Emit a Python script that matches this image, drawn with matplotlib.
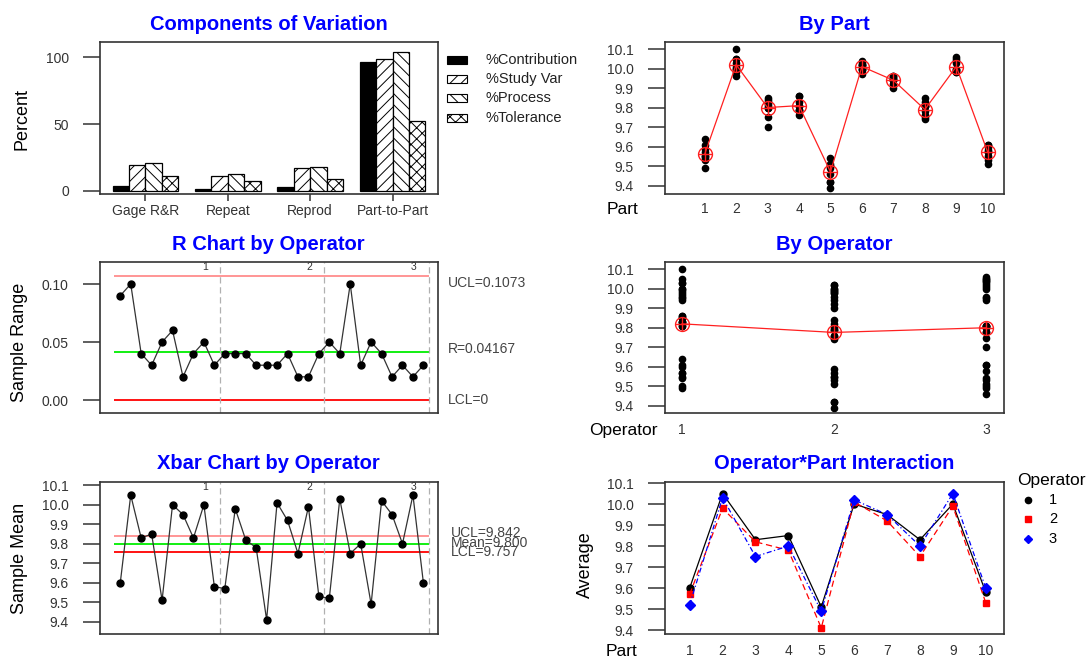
import numpy as np
import matplotlib.pyplot as plt
from matplotlib.patches import Rectangle
from matplotlib.lines import Line2D

plt.rcParams['font.family'] = ['Liberation Sans', 'DejaVu Sans']
plt.rcParams['hatch.linewidth'] = 0.7

# ---- data ----
components = ['Gage R&R', 'Repeat', 'Reprod', 'Part-to-Part']
pct_contribution = [3.8, 1.3, 3.0, 96.7]
pct_study_var = [19.5, 11.3, 16.8, 98.6]
pct_process = [20.8, 12.5, 17.5, 104.2]
pct_tolerance = [11.0, 7.3, 8.8, 52.0]
legend_names = ['%Contribution', '%Study Var', '%Process', '%Tolerance']

parts = list(range(1, 11))
operators = [1, 2, 3]

# measurements: rows = parts 1..10, cols = trials
op1_meas = [[9.64, 9.55, 9.61], [10.10, 10.00, 10.05], [9.85, 9.81, 9.83],
            [9.86, 9.83, 9.86], [9.54, 9.49, 9.50], [10.03, 9.97, 10.00],
            [9.96, 9.94, 9.95], [9.85, 9.81, 9.83], [10.03, 9.98, 9.99],
            [9.60, 9.57, 9.57]]
op2_meas = [[9.59, 9.55, 9.57], [10.00, 9.96, 9.98], [9.84, 9.80, 9.82],
            [9.79, 9.76, 9.79], [9.42, 9.39, 9.42], [10.02, 9.99, 10.02],
            [9.94, 9.90, 9.92], [9.76, 9.74, 9.75], [10.00, 9.98, 9.99],
            [9.55, 9.51, 9.53]]
op3_meas = [[9.54, 9.49, 9.53], [10.05, 10.01, 10.03], [9.80, 9.70, 9.75],
            [9.81, 9.78, 9.81], [9.51, 9.46, 9.50], [10.04, 10.00, 10.02],
            [9.96, 9.94, 9.95], [9.81, 9.78, 9.81], [10.06, 10.04, 10.05],
            [9.61, 9.58, 9.61]]

part_means = [9.56, 10.02, 9.80, 9.81, 9.47, 10.01, 9.94, 9.79, 10.01, 9.57]
operator_means = [9.82, 9.776, 9.80]

op1_xbar = [9.60, 10.05, 9.83, 9.85, 9.51, 10.00, 9.95, 9.83, 10.00, 9.58]
op2_xbar = [9.57, 9.98, 9.82, 9.78, 9.41, 10.01, 9.92, 9.75, 9.99, 9.53]
op3_xbar = [9.52, 10.03, 9.75, 9.80, 9.49, 10.02, 9.95, 9.80, 10.05, 9.60]

op1_range = [0.09, 0.10, 0.04, 0.03, 0.05, 0.06, 0.02, 0.04, 0.05, 0.03]
op2_range = [0.04, 0.04, 0.04, 0.03, 0.03, 0.03, 0.04, 0.02, 0.02, 0.04]
op3_range = [0.05, 0.04, 0.10, 0.03, 0.05, 0.04, 0.02, 0.03, 0.02, 0.03]

r_ucl, r_center, r_lcl = 0.1073, 0.04167, 0.0
x_ucl, x_center, x_lcl = 9.842, 9.800, 9.757

# ---- layout helpers (pixel based) ----
W, H = 1091, 660
fig = plt.figure(figsize=(W / 100, H / 100), dpi=100)


def px(x, y):
    return x / W, 1 - y / H


def box(l, t, r, b):
    return fig.add_axes([l / W, 1 - b / H, (r - l) / W, (b - t) / H])


def style(ax, xpad, xlen=0):
    for s in ax.spines.values():
        s.set_color('#333333')
        s.set_linewidth(1.2)
    ax.tick_params(axis='y', length=12.5, width=1.1, pad=10, labelsize=10,
                   labelcolor='#333333', color='#333333')
    ax.tick_params(axis='x', length=xlen, width=1.1, pad=xpad, labelsize=10,
                   labelcolor='#333333', color='#333333')


def title(ax, t):
    ax.set_title(t, color='#0000ff', fontsize=14.5, fontweight='bold', pad=9)


ticks_mean = [9.4, 9.5, 9.6, 9.7, 9.8, 9.9, 10.0, 10.1]
ticks_mean_lab = ['9.4', '9.5', '9.6', '9.7', '9.8', '9.9', '10.0', '10.1']

ax_cv = box(100, 42, 438, 194)
ax_part = box(665, 42, 1003.5, 194)
ax_r = box(100, 262, 437.5, 413)
ax_op = box(665, 262, 1003.5, 413)
ax_x = box(100, 482, 437.5, 634)
ax_int = box(665, 482, 1003.5, 634)

# ---- Components of Variation ----
series = [pct_contribution, pct_study_var, pct_process, pct_tolerance]
fills = ['black', 'white', 'white', 'white']
hatches = [None, '///', '\\\\\\', 'xxx']
for i, vals in enumerate(series):
    xs = [1.5 + 5 * g + i for g in range(len(components))]
    ax_cv.bar(xs, vals, width=1, color=fills[i], edgecolor='black',
              hatch=hatches[i], linewidth=0.9)
ax_cv.set_xlim(0.24, 20.76)
ax_cv.set_ylim(-2.5, 111.5)
ax_cv.set_yticks([0, 50, 100])
ax_cv.set_xticks([3 + 5 * g for g in range(len(components))])
ax_cv.set_xticklabels(components, fontsize=10.5)
style(ax_cv, 2.5, xlen=5)
title(ax_cv, 'Components of Variation')
fig.text(*px(22, 119), 'Percent', rotation=90, ha='center', va='center', fontsize=13)

for i, name in enumerate(legend_names):
    yc = [60, 79, 98, 118][i]
    x0, y0 = px(447, yc + 3.5)
    fig.add_artist(Rectangle((x0, y0), 20 / W, 7 / H, transform=fig.transFigure,
                             facecolor=fills[i], edgecolor='black', hatch=hatches[i],
                             linewidth=0.8))
    fig.text(*px(486, yc), name, ha='left', va='center', fontsize=10.5, color='#222222')

# ---- By Part ----
for p, a, b, c in zip(parts, op1_meas, op2_meas, op3_meas):
    vals = a + b + c
    ax_part.plot([p] * len(vals), vals, 'o', color='black', ms=4.5)
ax_part.plot(parts, part_means, color='#ff2020', lw=0.9)
ax_part.plot(parts, part_means, 'o', ms=10, mfc='none', mec='#ff2020', mew=1)
ax_part.plot(parts, part_means, '+', ms=10, mec='#ff2020', mew=1)
ax_part.set_xlim(-0.26, 10.5)
ax_part.set_ylim(9.357, 10.136)
ax_part.set_xticks(parts)
ax_part.set_yticks(ticks_mean)
ax_part.set_yticklabels(ticks_mean_lab)
style(ax_part, 5.8)
title(ax_part, 'By Part')
fig.text(*px(622, 210), 'Part', ha='center', va='center', fontsize=12.5)

# ---- R chart ----
sample_range = op1_range + op2_range + op3_range
idx = np.arange(1, len(sample_range) + 1)
ax_r.hlines([r_ucl], 0.4, 30.5, color='#ff8c8c', lw=1.3)
ax_r.hlines([r_center], 0.4, 30.5, color='#00ee00', lw=1.3)
ax_r.hlines([r_lcl], 0.4, 30.5, color='#ff0000', lw=1.3)
for v in [10.5, 20.5, 30.5]:
    ax_r.axvline(v, color='#b0b0b0', ls=(0, (5, 3)), lw=0.9)
ax_r.plot(idx, sample_range, color='#333333', lw=0.9, marker='o', ms=5,
          mfc='black', mec='black')
for xo, op in zip([9.1, 19.1, 29.1], operators):
    ax_r.text(xo, 0.119, str(op), ha='center', va='top', fontsize=7.5, color='#333333')
ax_r.set_xlim(-0.94, 31.35)
ax_r.set_ylim(-0.0112, 0.119)
ax_r.set_xticks([])
ax_r.set_yticks([0.0, 0.05, 0.10])
ax_r.set_yticklabels(['0.00', '0.05', '0.10'])
style(ax_r, 0)
title(ax_r, 'R Chart by Operator')
for yv, lab in zip([0.1006, 0.0437, 0.0], ['UCL=0.1073', 'R=0.04167', 'LCL=0']):
    ax_r.text(1.032, yv, lab, transform=ax_r.get_yaxis_transform(), ha='left',
              va='center', fontsize=10, color='#444444')
fig.text(*px(20, 342), 'Sample Range', rotation=90, ha='center', va='center', fontsize=13)

# ---- By Operator ----
for op, meas in zip(operators, [op1_meas, op2_meas, op3_meas]):
    vals = [v for row in meas for v in row]
    ax_op.plot([op] * len(vals), vals, 'o', color='black', ms=4.5)
ax_op.plot(operators, operator_means, color='#ff2020', lw=0.9)
ax_op.plot(operators, operator_means, 'o', ms=10, mfc='none', mec='#ff2020', mew=1)
ax_op.plot(operators, operator_means, '+', ms=10, mec='#ff2020', mew=1)
ax_op.set_xlim(0.888, 3.116)
ax_op.set_ylim(9.363, 10.137)
ax_op.set_xticks(operators)
ax_op.set_yticks(ticks_mean)
ax_op.set_yticklabels(ticks_mean_lab)
style(ax_op, 7)
title(ax_op, 'By Operator')
fig.text(*px(623, 431), 'Operator', ha='center', va='center', fontsize=12.5)

# ---- Xbar chart ----
sample_mean = op1_xbar + op2_xbar + op3_xbar
ax_x.hlines([x_ucl], 0.4, 30.5, color='#ff8c8c', lw=1.3)
ax_x.hlines([x_center], 0.4, 30.5, color='#00ee00', lw=1.3)
ax_x.hlines([x_lcl], 0.4, 30.5, color='#ff0000', lw=1.3)
for v in [10.5, 20.5, 30.5]:
    ax_x.axvline(v, color='#b0b0b0', ls=(0, (5, 3)), lw=0.9)
ax_x.plot(idx, sample_mean, color='#333333', lw=0.9, marker='o', ms=5,
          mfc='black', mec='black')
for xo, op in zip([9.1, 19.1, 29.1], operators):
    ax_x.text(xo, 10.117, str(op), ha='center', va='top', fontsize=7.5, color='#333333')
ax_x.set_xlim(-0.94, 31.35)
ax_x.set_ylim(9.337, 10.117)
ax_x.set_xticks([])
ax_x.set_yticks(ticks_mean)
ax_x.set_yticklabels(ticks_mean_lab)
style(ax_x, 0)
title(ax_x, 'Xbar Chart by Operator')
# the three limit labels crowd each other in the original too
for yv, lab in zip([9.853, 9.802, 9.757], ['UCL=9.842', 'Mean=9.800', 'LCL=9.757']):
    ax_x.text(1.04, yv, lab, transform=ax_x.get_yaxis_transform(), ha='left',
              va='center', fontsize=10, color='#444444')
fig.text(*px(20, 558), 'Sample Mean', rotation=90, ha='center', va='center', fontsize=13)

# ---- Operator*Part Interaction ----
op_styles = [dict(color='black', ls='-', marker='o', ms=5),
             dict(color='#ff0000', ls=(0, (5, 3)), marker='s', ms=5),
             dict(color='#0000ff', ls=(0, (4, 2, 1, 2)), marker='D', ms=5)]
for xbar, st in zip([op1_xbar, op2_xbar, op3_xbar], op_styles):
    ax_int.plot(parts, xbar, lw=0.9, mec=st['color'], mfc=st['color'], **st)
ax_int.set_xlim(0.25, 10.54)
ax_int.set_ylim(9.381, 10.105)
ax_int.set_xticks(parts)
ax_int.set_yticks(ticks_mean)
ax_int.set_yticklabels(ticks_mean_lab)
style(ax_int, 7)
title(ax_int, 'Operator*Part Interaction')
fig.text(*px(621, 652), 'Part', ha='center', va='center', fontsize=12.5)
fig.text(*px(585, 565), 'Average', rotation=90, ha='center', va='center', fontsize=13)

fig.text(*px(1017, 481), 'Operator', ha='left', va='center', fontsize=12.5)
for k, (op, st) in enumerate(zip(operators, op_styles)):
    yc = [500, 519, 539][k]
    fig.add_artist(Line2D([1028 / W], [1 - yc / H], transform=fig.transFigure,
                          marker=st['marker'], ms=4.5, color=st['color'], ls='none'))
    fig.text(*px(1053, yc), str(op), ha='center', va='center', fontsize=10.5)

fig.savefig('out.png', dpi=100)
